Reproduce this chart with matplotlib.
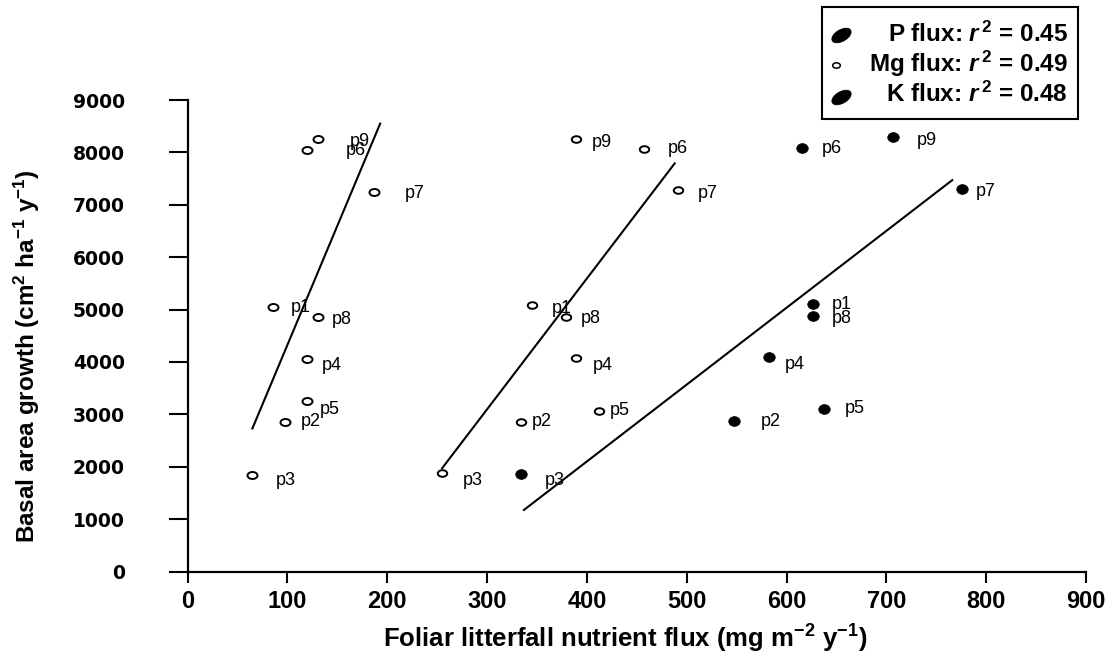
import matplotlib
matplotlib.use('Agg')
import matplotlib.pyplot as plt
from matplotlib.path import Path
from matplotlib.transforms import Affine2D
from matplotlib.lines import Line2D
from matplotlib.patches import Rectangle

# ---------------- data ----------------
plots = ['p1', 'p2', 'p3', 'p4', 'p5', 'p6', 'p7', 'p8', 'p9']

p_flux = [86, 98, 65, 120, 120, 120, 187, 131, 131]
p_growth = [5040, 2860, 1840, 4055, 3260, 8045, 7250, 4865, 8250]

mg_flux = [345, 334, 255, 389, 412, 457, 491, 379, 389]
mg_growth = [5085, 2860, 1875, 4070, 3070, 8065, 7280, 4865, 8255]

k_flux = [627, 547, 334, 582, 638, 616, 776, 627, 707]
k_growth = [5105, 2870, 1855, 4085, 3095, 8075, 7295, 4875, 8285]

# regression line end points
p_fit_x, p_fit_y = [65, 193], [2730, 8550]
mg_fit_x, mg_fit_y = [255, 488], [1970, 7790]
k_fit_x, k_fit_y = [337, 766], [1175, 7470]

legend_labels = [r'P flux: $r^{\,2}$ = 0.45',
                 r'Mg flux: $r^{\,2}$ = 0.49',
                 r'K flux: $r^{\,2}$ = 0.48']

x_ticks = [0, 100, 200, 300, 400, 500, 600, 700, 800, 900]
y_ticks = [0, 1000, 2000, 3000, 4000, 5000, 6000, 7000, 8000, 9000]

x_label = r'Foliar litterfall nutrient flux (mg m$^{-2}$ y$^{-1}$)'
y_label = r'Basal area growth (cm$^{2}$ ha$^{-1}$ y$^{-1}$)'

# label offsets (pixels, from point centre to label left edge)
p_off = [(17, 0), (15, 0), (23, -5), (14, -6), (12, -9), (38, 0), (31, -2), (14, -3), (32, -2)]
mg_off = [(20, -3), (11, 0), (21, -7), (17, -7), (11, 0), (24, 0), (20, -3), (15, -2), (16, -3)]
k_off = [(18, 0), (27, 0), (24, -6), (16, -7), (20, 1), (19, 0), (14, -2), (18, -2), (23, -3)]

# ---------------- style ----------------
plt.rcParams['mathtext.fontset'] = 'custom'
plt.rcParams['mathtext.rm'] = 'Liberation Sans:bold'
plt.rcParams['mathtext.it'] = 'Liberation Sans:italic:bold'
plt.rcParams['mathtext.bf'] = 'Liberation Sans:bold'

W, H = 1113, 666
fig = plt.figure(figsize=(W / 100, H / 100), dpi=100)
ax = fig.add_axes([187.5 / W, 1 - 571.5 / H, (1086 - 187.5) / W, (571.5 - 100) / H])

open_ell = Path.unit_circle().transformed(Affine2D().scale(1, 0.7))
dot_ell = Path.unit_circle().transformed(Affine2D().scale(1, 0.85))
leg_ell = Path.unit_circle().transformed(Affine2D().scale(1, 0.55).rotate_deg(30))

ax.plot(p_flux, p_growth, ls='none', marker=open_ell, ms=7.2, mfc='white',
        mec='black', mew=1.4, zorder=3)
ax.plot(mg_flux, mg_growth, ls='none', marker=open_ell, ms=6.8, mfc='white',
        mec='black', mew=1.4, zorder=3)
ax.plot(k_flux, k_growth, ls='none', marker=dot_ell, ms=8.3, mfc='black',
        mec='black', mew=0.5, zorder=3)

for fx, fy in [(p_fit_x, p_fit_y), (mg_fit_x, mg_fit_y), (k_fit_x, k_fit_y)]:
    ax.plot(fx, fy, color='black', lw=1.5, zorder=2)

for xs, ys, offs in [(p_flux, p_growth, p_off), (mg_flux, mg_growth, mg_off),
                     (k_flux, k_growth, k_off)]:
    for name, x, y, (dx, dy) in zip(plots, xs, ys, offs):
        ax.annotate(name, (x, y), xytext=(dx, dy), textcoords='offset pixels',
                    ha='left', va='center', fontsize=13,
                    family='Liberation Sans', zorder=4)

ax.set_xlim(0, 900)
ax.set_ylim(0, 9000)
ax.set_xticks(x_ticks)
ax.set_xticklabels([str(v) for v in x_ticks], family='Liberation Sans',
                   fontweight='bold', fontsize=17)
ax.set_yticks(y_ticks)
ax.set_yticklabels([str(v) for v in y_ticks], family='DejaVu Sans',
                   fontweight='bold', fontsize=13.5)
ax.tick_params(axis='y', direction='out', length=14, width=1.5, pad=31)
ax.tick_params(axis='x', direction='out', length=8, width=1.5, pad=5.5)
for s in ['top', 'right']:
    ax.spines[s].set_visible(False)
for s in ['left', 'bottom']:
    ax.spines[s].set_linewidth(1.6)

ax.set_xlabel(x_label, family='Liberation Sans', fontweight='bold', fontsize=18.5,
              va='baseline')
ax.xaxis.set_label_coords((625 - 187.5) / 898.5, (571.5 - 648) / 471.5)
ax.set_ylabel(y_label, family='Liberation Sans', fontweight='bold', fontsize=17.5,
              va='center')
ax.yaxis.set_label_coords((27 - 187.5) / 898.5, (571.5 - 356) / 471.5)

# ---------------- legend (drawn by hand: right aligned text) ----------------
fig.add_artist(Rectangle((822 / W, 1 - 119 / H), (1078 - 822) / W, (119 - 7) / H,
                         transform=fig.transFigure, fill=True, fc='white',
                         ec='black', lw=1.5, zorder=5))
leg_marker_xy = [(841, 35), (836, 65), (841, 97)]
leg_styles = [dict(marker=leg_ell, ms=14.4, mfc='black', mec='black', mew=0.5),
              dict(marker=open_ell, ms=5.5, mfc='white', mec='black', mew=1.1),
              dict(marker=leg_ell, ms=14.4, mfc='black', mec='black', mew=0.5)]
leg_baselines = [42, 72, 102]
for (mx, my), st, lab, bl in zip(leg_marker_xy, leg_styles, legend_labels, leg_baselines):
    fig.add_artist(Line2D([mx / W], [1 - my / H], transform=fig.transFigure,
                          ls='none', zorder=6, **st))
    fig.text(1068 / W, 1 - bl / H, lab, ha='right', va='baseline', fontsize=17.5,
             family='Liberation Sans', fontweight='bold', zorder=6)

fig.savefig('out.png', dpi=100)
